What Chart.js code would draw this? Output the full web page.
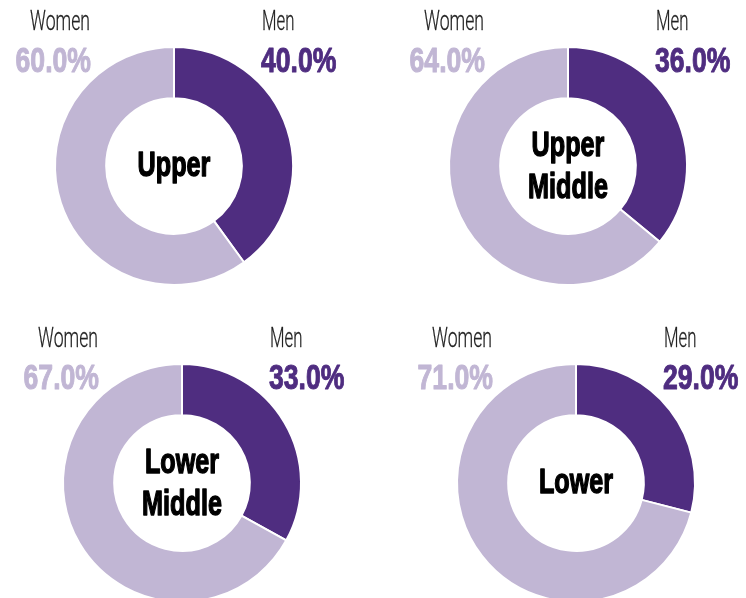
<!DOCTYPE html>
<html>
<head>
<meta charset="utf-8">
<script src="https://cdn.jsdelivr.net/npm/chart.js@4.4.0/dist/chart.umd.min.js"></script>
<style>
    html, body { margin: 0; padding: 0; background: #fff; }
    body { width: 746px; height: 598px; overflow: hidden; position: relative; }
    .box { position: absolute; width: 373px; }
</style>
</head>
<body>
<div class="box" style="left:0;top:0;height:299px"><canvas id="c0"></canvas></div>
<div class="box" style="left:373px;top:0;height:299px"><canvas id="c1"></canvas></div>
<div class="box" style="left:0;top:299px;height:320px"><canvas id="c2"></canvas></div>
<div class="box" style="left:373px;top:299px;height:320px"><canvas id="c3"></canvas></div>
<script>
const groups = ["Upper", "Upper Middle", "Lower Middle", "Lower"];
const centerLines = [["Upper"], ["Upper", "Middle"], ["Lower", "Middle"], ["Lower"]];
const categories = ["Men", "Women"];
const menShare = [40.0, 36.0, 33.0, 29.0];
const womenShare = [60.0, 64.0, 67.0, 71.0];

const DARK = "#4f2d80";
const LIGHT = "#c1b6d4";

// padding puts each ring where it sits in the picture
const paddings = [
    { left: 54, right: 79, top: 46, bottom: 13 },
    { left: 75, right: 58, top: 46, bottom: 13 },
    { left: 62, right: 71, top: 64, bottom: 16 },
    { left: 83, right: 50, top: 64, bottom: 16 }
];

function drawText(ctx, text, x, y, font, color, align, sx, stroke) {
    ctx.save();
    ctx.translate(x, y);
    ctx.scale(sx, 1);
    ctx.font = font;
    ctx.fillStyle = color;
    ctx.textAlign = align;
    ctx.textBaseline = "alphabetic";
    ctx.fillText(text, 0, 0);
    if (stroke) {
        ctx.strokeStyle = color;
        ctx.lineWidth = stroke;
        ctx.lineJoin = "round";
        ctx.strokeText(text, 0, 0);
    }
    ctx.restore();
}

const labelsPlugin = {
    id: "ringLabels",
    afterDraw(chart) {
        const i = chart.options.plugins.ringLabels.index;
        const ctx = chart.ctx;
        const arc = chart.getDatasetMeta(0).data[0];
        const cx = arc.x, cy = arc.y;
        const light = "300 28px Roboto, 'Liberation Sans', sans-serif";
        const bold = "bold 35px 'Liberation Sans', Arial, sans-serif";

        drawText(ctx, categories[1], cx - 84, cy - 136, light, "#222", "right", 0.63, 0.3);
        drawText(ctx, womenShare[i].toFixed(1) + "%", cx - 83, cy - 94, bold, LIGHT, "right", 0.76, 1);
        drawText(ctx, categories[0], cx + 88, cy - 136, light, "#222", "left", 0.6, 0.3);
        drawText(ctx, menShare[i].toFixed(1) + "%", cx + 87, cy - 94, bold, DARK, "left", 0.76, 1);

        const lines = centerLines[i];
        const cf = "bold 35px 'Liberation Sans', Arial, sans-serif";
        if (lines.length === 1) {
            drawText(ctx, lines[0], cx, cy + 10, cf, "#000", "center", 0.72, 1.4);
        } else {
            drawText(ctx, lines[0], cx, cy - 10, cf, "#000", "center", 0.72, 1.4);
            drawText(ctx, lines[1], cx, cy + 32, cf, "#000", "center", 0.72, 1.4);
        }
    }
};

groups.forEach((g, i) => {
    new Chart(document.getElementById("c" + i), {
        type: "doughnut",
        data: {
            labels: categories,
            datasets: [{
                data: [menShare[i], womenShare[i]],
                backgroundColor: [DARK, LIGHT],
                borderColor: "#fff",
                borderWidth: 2
            }]
        },
        options: {
            responsive: true,
            maintainAspectRatio: false,
            animation: false,
            cutout: "57%",
            layout: { padding: paddings[i] },
            plugins: {
                legend: { display: false },
                tooltip: { enabled: false },
                ringLabels: { index: i }
            }
        },
        plugins: [labelsPlugin]
    });
});
</script>
</body>
</html>
